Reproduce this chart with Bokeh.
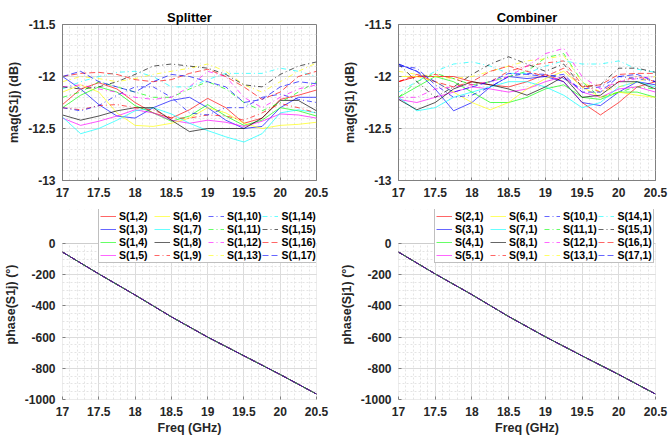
from bokeh.plotting import figure
from bokeh.layouts import gridplot
from bokeh.models import Range1d, FixedTicker, CustomJSTickFormatter, Legend, LegendItem, BoxAnnotation
from bokeh.embed import file_html
from bokeh.resources import INLINE

# ---------------- data ----------------
freq = [17.0, 17.25, 17.5, 17.75, 18.0, 18.25, 18.5, 18.75, 19.0, 19.25, 19.5, 19.75, 20.0, 20.25, 20.5]

split_labels = ["S(1,2)", "S(1,3)", "S(1,4)", "S(1,5)", "S(1,6)", "S(1,7)", "S(1,8)", "S(1,9)",
                "S(1,10)", "S(1,11)", "S(1,12)", "S(1,13)", "S(1,14)", "S(1,15)", "S(1,16)", "S(1,17)"]
comb_labels = ["S(2,1)", "S(3,1)", "S(4,1)", "S(5,1)", "S(6,1)", "S(7,1)", "S(8,1)", "S(9,1)",
               "S(10,1)", "S(11,1)", "S(12,1)", "S(13,1)", "S(14,1)", "S(15,1)", "S(16,1)", "S(17,1)"]

# Splitter magnitude (dB)
s1_2 = [-12.27, -12.12, -12.06, -12.12, -12.25, -12.35, -12.40, -12.32, -12.21, -12.30, -12.45, -12.40, -12.22, -12.18, -12.13]
s1_3 = [-12.00, -12.12, -12.27, -12.38, -12.40, -12.30, -12.23, -12.20, -12.30, -12.42, -12.50, -12.48, -12.30, -12.20, -12.20]
s1_4 = [-12.30, -12.18, -12.10, -12.15, -12.28, -12.35, -12.43, -12.38, -12.27, -12.38, -12.47, -12.42, -12.30, -12.33, -12.38]
s1_5 = [-12.40, -12.47, -12.43, -12.38, -12.32, -12.35, -12.42, -12.45, -12.42, -12.44, -12.48, -12.43, -12.36, -12.37, -12.40]
s1_6 = [-12.15, -12.08, -12.15, -12.35, -12.47, -12.48, -12.45, -12.40, -12.30, -12.35, -12.45, -12.50, -12.47, -12.46, -12.44]
s1_7 = [-12.39, -12.55, -12.50, -12.42, -12.33, -12.30, -12.36, -12.45, -12.52, -12.58, -12.63, -12.55, -12.35, -12.32, -12.35]
s1_8 = [-12.37, -12.42, -12.38, -12.33, -12.30, -12.30, -12.42, -12.53, -12.50, -12.50, -12.50, -12.40, -12.23, -12.23, -12.33]
s1_9 = [-12.30, -12.32, -12.28, -12.27, -12.30, -12.32, -12.40, -12.40, -12.37, -12.38, -12.42, -12.35, -12.26, -12.30, -12.35]
s1_10 = [-12.30, -12.33, -12.28, -12.18, -12.10, -12.10, -12.20, -12.35, -12.37, -12.30, -12.30, -12.20, -12.17, -12.22, -12.25]
s1_11 = [-12.20, -12.15, -12.05, -12.10, -12.15, -12.20, -12.20, -12.12, -12.05, -12.12, -12.25, -12.33, -12.25, -12.15, -12.05]
s1_12 = [-12.10, -12.08, -12.12, -12.15, -12.20, -12.22, -12.20, -12.10, -11.95, -12.00, -12.20, -12.30, -12.20, -12.12, -12.08]
s1_13 = [-12.05, -12.00, -12.02, -12.05, -12.02, -11.98, -11.95, -11.92, -11.88, -11.95, -12.08, -12.15, -12.05, -11.95, -11.87]
s1_14 = [-12.12, -12.05, -12.00, -11.96, -11.95, -12.00, -12.10, -12.10, -12.03, -11.97, -11.97, -11.97, -11.92, -11.95, -12.00]
s1_15 = [-12.10, -12.12, -12.10, -12.05, -11.98, -11.90, -11.88, -11.90, -11.92, -11.98, -12.08, -12.10, -11.98, -11.90, -11.86]
s1_16 = [-12.00, -11.97, -11.96, -11.98, -12.03, -12.05, -12.03, -11.97, -11.93, -12.00, -12.10, -12.22, -12.15, -12.00, -11.95]
s1_17 = [-12.00, -11.95, -12.05, -12.10, -12.15, -12.05, -11.98, -12.00, -12.05, -12.10, -12.25, -12.22, -12.10, -12.05, -12.07]

# Combiner magnitude (dB)
s2_1 = [-12.05, -12.00, -12.00, -12.00, -12.05, -12.08, -12.10, -12.05, -11.98, -12.05, -12.25, -12.37, -12.25, -12.10, -12.05]
s3_1 = [-11.88, -11.95, -12.12, -12.33, -12.25, -12.10, -12.00, -12.02, -12.00, -12.05, -12.25, -12.28, -12.15, -12.05, -12.08]
s4_1 = [-12.20, -12.10, -12.00, -12.05, -12.15, -12.25, -12.25, -12.20, -12.12, -12.08, -12.20, -12.22, -12.15, -12.15, -12.20]
s5_1 = [-12.22, -12.25, -12.20, -12.15, -12.10, -12.12, -12.15, -12.12, -12.05, -12.00, -12.15, -12.20, -12.12, -12.10, -12.15]
s6_1 = [-12.00, -12.00, -12.05, -12.15, -12.25, -12.32, -12.25, -12.12, -12.02, -11.95, -12.10, -12.20, -12.15, -12.18, -12.20]
s7_1 = [-12.20, -12.33, -12.30, -12.20, -12.15, -12.10, -12.05, -12.05, -12.10, -12.18, -12.30, -12.25, -12.10, -12.05, -12.10]
s8_1 = [-12.22, -12.32, -12.25, -12.12, -12.05, -12.08, -12.12, -12.18, -12.10, -12.00, -12.20, -12.18, -12.05, -12.05, -12.12]
s9_1 = [-12.05, -12.00, -11.98, -12.02, -12.08, -12.05, -11.95, -11.90, -11.87, -11.85, -12.08, -12.15, -12.05, -12.00, -12.05]
s10_1 = [-11.90, -11.92, -12.08, -12.20, -12.18, -12.10, -12.00, -11.97, -11.98, -12.02, -12.12, -12.10, -12.00, -12.02, -12.05]
s11_1 = [-12.20, -12.05, -11.97, -12.02, -12.08, -12.05, -12.00, -11.95, -11.82, -11.78, -12.05, -12.20, -12.15, -12.10, -12.12]
s12_1 = [-12.20, -12.20, -12.12, -12.10, -12.08, -12.05, -12.00, -11.90, -11.78, -11.73, -12.00, -12.12, -12.05, -12.02, -12.00]
s13_1 = [-11.95, -11.98, -12.00, -12.02, -12.00, -11.95, -11.90, -11.85, -11.83, -11.80, -12.05, -12.15, -12.10, -12.05, -12.00]
s14_1 = [-12.15, -12.05, -11.95, -11.88, -11.86, -11.90, -11.97, -11.97, -11.90, -11.85, -11.88, -11.88, -11.85, -11.93, -11.96]
s15_1 = [-11.88, -12.05, -12.20, -12.10, -11.98, -11.88, -11.81, -11.88, -11.95, -11.88, -12.10, -12.08, -11.92, -11.92, -11.96]
s16_1 = [-12.05, -11.98, -12.05, -12.10, -12.05, -11.95, -11.90, -11.95, -12.00, -11.92, -12.10, -12.08, -11.98, -11.97, -11.97]
s17_1 = [-11.88, -11.95, -12.05, -12.15, -12.10, -12.05, -11.97, -11.98, -12.00, -11.98, -12.15, -12.15, -12.00, -11.98, -12.05]

# Phase (deg)
phase_freq = [17.0, 17.5, 18.0, 18.5, 19.0, 19.5, 20.0, 20.5]
split_phase = [-55, -195, -330, -470, -600, -720, -840, -965]
comb_phase = [-55, -195, -328, -468, -598, -720, -840, -965]

x_ticks = [17, 17.5, 18, 18.5, 19, 19.5, 20, 20.5]
mag_ticks = [-13, -12.5, -12, -11.5]
phase_ticks = [-1000, -800, -600, -400, -200, 0]

split_mag = [s1_2, s1_3, s1_4, s1_5, s1_6, s1_7, s1_8, s1_9, s1_10, s1_11, s1_12, s1_13, s1_14, s1_15, s1_16, s1_17]
comb_mag = [s2_1, s3_1, s4_1, s5_1, s6_1, s7_1, s8_1, s9_1, s10_1, s11_1, s12_1, s13_1, s14_1, s15_1, s16_1, s17_1]

# ---------------- styles ----------------
colors = ["#ff0000", "#0000ff", "#00ff00", "#ff00ff", "#ffff00", "#00ffff", "#000000",
          "#ff0000", "#0000ff", "#00ff00", "#ff00ff", "#ffff00", "#00ffff", "#000000",
          "#ff0000", "#0000ff"]
dashes = ["solid"] * 7 + ["5 3 1 3"] * 7 + ["6 3"] * 2

FONT = "Liberation Sans"
TXT = "#262626"
BOX = "#808080"
x_minor = [round(17 + 0.1 * i, 2) for i in range(36)]
mag_minor = [round(-13 + 0.1 * i, 2) for i in range(16)]
phase_minor = [-1000 + 50 * i for i in range(21)]

fmt = CustomJSTickFormatter(code="return String(Math.round(tick*10)/10)")

# the phase frames reserve 34 px above the 156 px axes box for the overhanging legend
PHASE_TOP = 1000.0 * 34 / 156


def make_fig(width, height, left, right, top, bottom, yrange, yticks, yminor, ylabel, xlabel=None, title=None):
    p = figure(width=width, height=height, output_backend="svg", toolbar_location=None,
               x_range=Range1d(17, 20.5), y_range=Range1d(*yrange),
               min_border_left=left, min_border_right=right, min_border_top=top, min_border_bottom=bottom)
    p.background_fill_color = "white"
    p.border_fill_color = "white"
    p.outline_line_color = BOX
    p.outline_line_width = 1
    p.xaxis.ticker = FixedTicker(ticks=x_ticks, minor_ticks=x_minor)
    p.yaxis.ticker = FixedTicker(ticks=yticks, minor_ticks=yminor)
    for ax in (p.xaxis[0], p.yaxis[0]):
        ax.formatter = fmt
        ax.axis_line_color = BOX
        ax.major_tick_line_color = BOX
        ax.major_tick_in = 3
        ax.major_tick_out = 0
        ax.minor_tick_line_color = None
        ax.major_label_text_font = FONT
        ax.major_label_text_font_style = "bold"
        ax.major_label_text_font_size = "12px"
        ax.major_label_text_color = TXT
        ax.major_label_standoff = 3
        ax.axis_label_text_font = FONT
        ax.axis_label_text_font_style = "bold"
        ax.axis_label_text_font_size = "12.5px"
        ax.axis_label_text_color = TXT
        ax.axis_label_standoff = 4
    p.yaxis.axis_label = ylabel
    if xlabel:
        p.xaxis.axis_label = xlabel
        p.xaxis.axis_label_standoff = 2
    for g in (p.xgrid[0], p.ygrid[0]):
        g.grid_line_color = "#dcdcdc"
        g.grid_line_width = 1
        g.minor_grid_line_color = "#e4e4e4"
        g.minor_grid_line_dash = "2 2"
    if title:
        p.title.text = title
        p.title.align = "center"
        p.title.text_font = FONT
        p.title.text_font_style = "bold"
        p.title.text_font_size = "13px"
        p.title.text_color = "#000000"
        p.title.standoff = 0
    return p


p1 = make_fig(334, 200, 58, 18, 24, 20, (-13, -11.5), mag_ticks, mag_minor, "mag(S1j) (dB)", title="Splitter")
p2 = make_fig(334, 200, 64, 13, 24, 20, (-13, -11.5), mag_ticks, mag_minor, "mag(Sj1) (dB)", title="Combiner")
p3 = make_fig(334, 237, 58, 18, 9, 38, (-1000, PHASE_TOP), phase_ticks, phase_minor, "phase(S1j) (°)", xlabel="Freq (GHz)")
p4 = make_fig(334, 237, 64, 13, 9, 38, (-1000, PHASE_TOP), phase_ticks, phase_minor, "phase(Sj1) (°)", xlabel="Freq (GHz)")

for i in range(16):
    p1.line(freq, split_mag[i], line_color=colors[i], line_dash=dashes[i], line_width=0.9, line_alpha=0.75)
    p2.line(freq, comb_mag[i], line_color=colors[i], line_dash=dashes[i], line_width=0.9, line_alpha=0.75)


def add_phase(p, phase, labels):
    # hide the grid above the axes box and draw the box itself
    p.outline_line_color = None
    p.yaxis.axis_line_color = None
    p.xaxis.axis_line_color = None
    p.add_layout(BoxAnnotation(bottom=0, fill_color="white", fill_alpha=1, line_color=None, level="underlay"), "center")
    p.add_layout(BoxAnnotation(bottom=-1000, top=0, left=17, right=20.5, fill_color=None, fill_alpha=0,
                               line_color=BOX, line_width=1), "center")
    items = []
    for i in range(16):
        r = p.line(phase_freq, phase, line_color=colors[i], line_dash=dashes[i], line_width=1, line_alpha=0.6)
        items.append(LegendItem(label=labels[i], renderers=[r]))
    leg = Legend(items=items, location=(36, 136), nrows=4, orientation="vertical")
    leg.label_text_font = FONT
    leg.label_text_font_style = "bold"
    leg.label_text_font_size = "10.5px"
    leg.label_text_color = "#000000"
    leg.label_standoff = 3
    leg.label_width = 34
    leg.label_height = 12
    leg.glyph_height = 12
    leg.glyph_width = 16
    leg.spacing = 1
    leg.padding = 1
    leg.margin = 0
    leg.border_line_color = BOX
    leg.border_line_width = 1
    leg.background_fill_color = "white"
    leg.background_fill_alpha = 1
    p.add_layout(leg, "center")


add_phase(p3, split_phase, split_labels)
add_phase(p4, comb_phase, comb_labels)

grid = gridplot([[p1, p2], [p3, p4]], toolbar_location=None)

open("out.html", "w").write(file_html(grid, INLINE))
